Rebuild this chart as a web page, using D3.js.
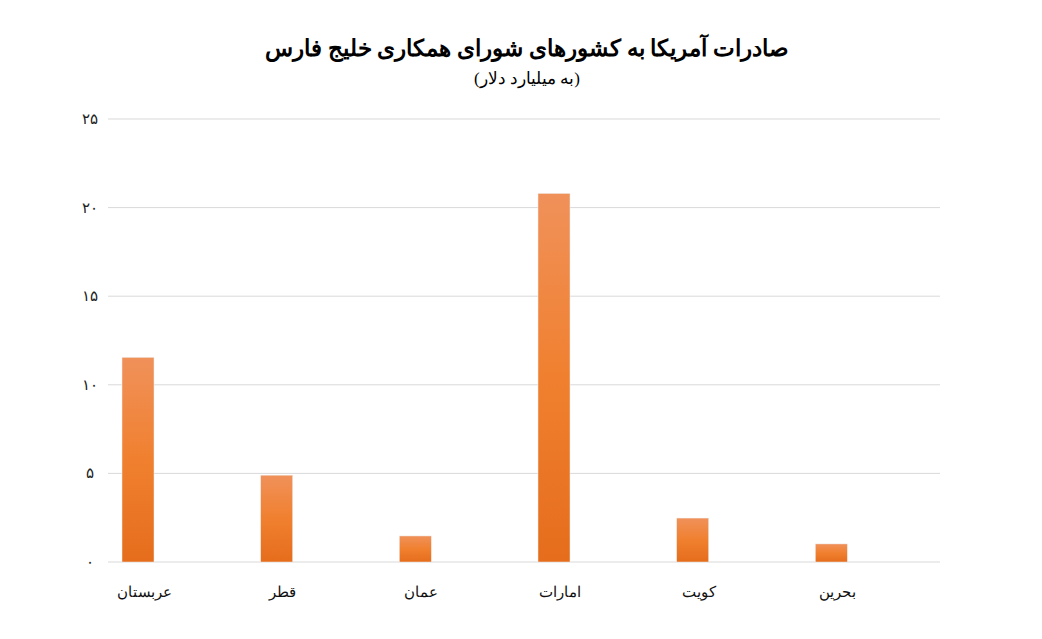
<!DOCTYPE html>
<html><head><meta charset="utf-8">
<script src="https://cdn.jsdelivr.net/npm/d3@7"></script>
<style>body{margin:0;background:#fff}</style>
</head><body>
<svg id="c" width="1042" height="639"></svg>
<script>
const categories = ["عربستان", "قطر", "عمان", "امارات", "کویت", "بحرین"];
const values = [11.55, 4.9, 1.47, 20.8, 2.48, 1.02];
const tickValues = [0, 5, 10, 15, 20, 25];
const tickLabels = ["۰", "۵", "۱۰", "۱۵", "۲۰", "۲۵"];

const svg = d3.select("#c");
const font = "'Liberation Serif', 'DejaVu Serif', serif";

const x = d3.scaleBand().domain(categories).range([108, 940]);
const y = d3.scaleLinear().domain([0, 25]).range([562, 119]);

const grad = svg.append("defs").append("linearGradient")
  .attr("id", "g").attr("x1", 0).attr("y1", 0).attr("x2", 0).attr("y2", 1);
grad.append("stop").attr("offset", "0%").attr("stop-color", "#f0915a");
grad.append("stop").attr("offset", "50%").attr("stop-color", "#f0802f");
grad.append("stop").attr("offset", "100%").attr("stop-color", "#e56d1c");

// grid lines
svg.append("g").selectAll("line").data(tickValues).join("line")
  .attr("x1", 108).attr("x2", 940)
  .attr("y1", d => y(d)).attr("y2", d => y(d))
  .attr("stroke", "#d9d9d9").attr("stroke-width", 1);

// y tick labels
svg.append("g").selectAll("text").data(tickValues).join("text")
  .attr("x", 90).attr("y", d => y(d) + 5)
  .attr("text-anchor", "middle")
  .attr("font-family", font).attr("font-size", 15).attr("fill", "#222")
  .text((d, i) => tickLabels[i]);

const barW = 32, off = 14;
svg.append("g").selectAll("rect").data(values).join("rect")
  .attr("x", (d, i) => x(categories[i]) + off)
  .attr("y", d => y(d))
  .attr("width", barW)
  .attr("height", d => y(0) - y(d))
  .attr("fill", "url(#g)")
  .attr("stroke", "#eee").attr("stroke-width", 0.5);

svg.append("g").selectAll("text").data(categories).join("text")
  .attr("x", d => x(d) + off + barW / 2 + 6)
  .attr("y", 597)
  .attr("text-anchor", "middle")
  .attr("font-family", font).attr("font-size", 15).attr("fill", "#111")
  .text(d => d);

svg.append("text").attr("x", 527).attr("y", 56)
  .attr("text-anchor", "middle").attr("direction", "rtl")
  .attr("font-family", font).attr("font-size", 23).attr("font-weight", "bold")
  .text("صادرات آمریکا به کشورهای شورای همکاری خلیج فارس");
svg.append("text").attr("x", 527).attr("y", 84)
  .attr("text-anchor", "middle").attr("direction", "rtl")
  .attr("font-family", font).attr("font-size", 17)
  .text("(به میلیارد دلار)");
</script>
</body></html>
